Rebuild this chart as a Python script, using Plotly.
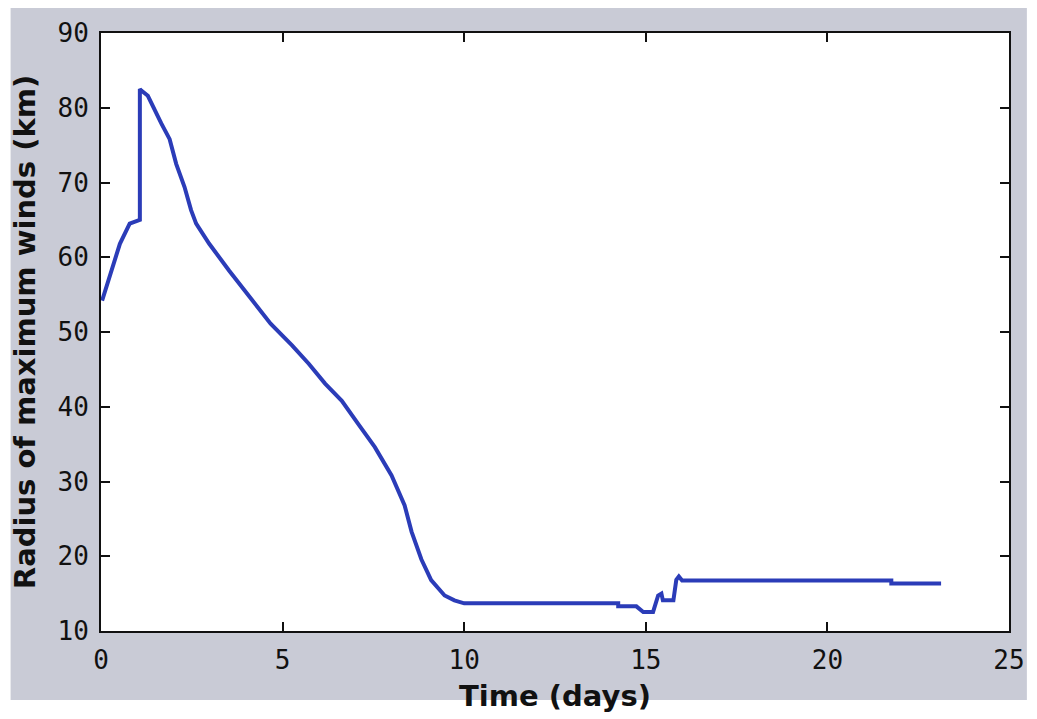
import plotly.graph_objects as go

time_days = [0.03, 0.34, 0.52, 0.79, 1.07, 1.07, 1.11, 1.29, 1.43, 1.66, 1.89, 2.07, 2.3,
             2.48, 2.62, 2.98, 3.53, 3.89, 4.44, 4.67, 5.26, 5.72, 6.17, 6.63, 7.08, 7.54,
             8.0, 8.36, 8.55, 8.82, 9.09, 9.46, 9.73, 10.0, 14.24, 14.24, 14.74, 14.93,
             15.2, 15.34, 15.43, 15.47, 15.76, 15.79, 15.84, 15.91, 16.0, 21.76, 21.76, 23.13]
rmw_km = [54.2, 59.1, 61.8, 64.5, 65.0, 82.5, 82.3, 81.6, 80.1, 77.9, 75.8, 72.5, 69.4,
          66.3, 64.5, 61.8, 58.2, 56.0, 52.6, 51.1, 48.2, 45.75, 43.1, 40.8, 37.7, 34.6,
          30.8, 26.8, 23.3, 19.6, 16.8, 14.75, 14.1, 13.7, 13.7, 13.3, 13.3, 12.55,
          12.55, 14.75, 15.0, 14.1, 14.1, 15.2, 16.85, 17.3, 16.75, 16.75, 16.35, 16.35]

x_ticks = [0, 5, 10, 15, 20, 25]
y_ticks = [10, 20, 30, 40, 50, 60, 70, 80, 90]

GRAY = "#c9cbd6"

fig = go.Figure()
fig.add_trace(go.Scatter(x=time_days, y=rmw_km, mode="lines",
                         line=dict(color="#2b3cb8", width=4), showlegend=False))

tickfont = dict(family="DejaVu Sans Mono", size=26, color="#111111")
titlefont = dict(family="DejaVu Sans", size=29, color="#111111", weight="bold")

fig.update_layout(
    width=1037, height=719,
    margin=dict(l=101, r=22, t=33, b=88),
    paper_bgcolor="white",
    plot_bgcolor="white",
    shapes=[
        dict(type="rect", xref="paper", yref="paper", layer="below",
             x0=-91 / 914, x1=1 + 18 / 914, y0=-(700 - 631) / 598, y1=1 + 25 / 598,
             fillcolor=GRAY, line=dict(width=0)),
        dict(type="rect", xref="paper", yref="paper", layer="below",
             x0=0, x1=1, y0=0, y1=1, fillcolor="white", line=dict(width=0)),
    ],
    xaxis=dict(range=[0, 25], tickvals=x_ticks, ticks="inside", ticklen=9, tickwidth=2,
               tickcolor="#111111", showline=True, linecolor="#111111", linewidth=2,
               mirror="ticks", showgrid=False, zeroline=False, tickfont=tickfont,
               ticklabelstandoff=5,
               title=dict(text="Time (days)", font=titlefont, standoff=11)),
    yaxis=dict(range=[10, 90], tickvals=y_ticks, ticks="inside", ticklen=9, tickwidth=2,
               tickcolor="#111111", showline=True, linecolor="#111111", linewidth=2,
               mirror="ticks", showgrid=False, zeroline=False, tickfont=tickfont,
               ticklabelstandoff=5,
               title=dict(text="Radius of maximum winds (km)", font=titlefont, standoff=13)),
)

fig.write_html("out.html")
